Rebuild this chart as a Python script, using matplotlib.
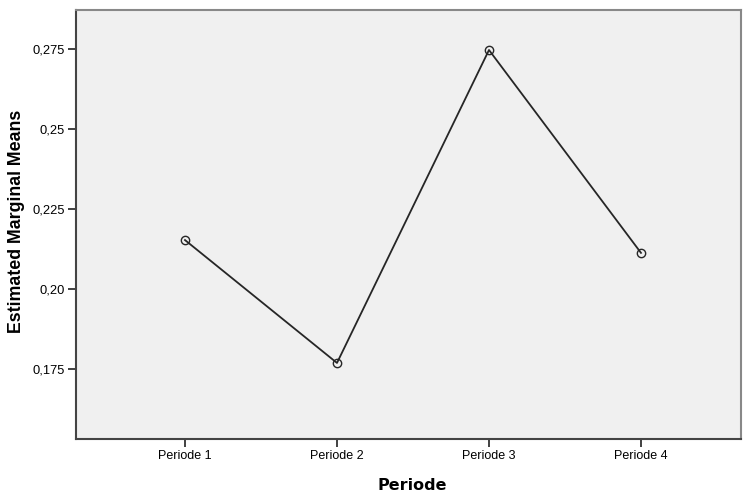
import matplotlib.pyplot as plt

periods = ['Periode 1', 'Periode 2', 'Periode 3', 'Periode 4']
means = [0.2153, 0.1769, 0.2747, 0.2113]
yticks = [0.175, 0.20, 0.225, 0.25, 0.275]
ytick_labels = ['0,175', '0,20', '0,225', '0,25', '0,275']

plt.rcParams['font.family'] = ['Liberation Sans', 'DejaVu Sans']

fig = plt.figure(figsize=(7.43, 4.94), dpi=100)
ax = fig.add_axes([76 / 743, 1 - 439 / 494, (741 - 76) / 743, (439 - 10) / 494])
ax.set_facecolor('#f0f0f0')

x = list(range(len(periods)))
ax.plot(x, means, color='#262626', lw=1.3, marker='o', ms=6,
        mfc='none', mec='#262626', mew=1.0)

ax.set_xlim(-0.717, 3.658)
ax.set_ylim(0.15313, 0.2872)
ax.set_xticks(x)
ax.set_xticklabels(periods, fontsize=9)
ax.set_yticks(yticks)
ax.set_yticklabels(ytick_labels, fontsize=9.3)
ax.tick_params(axis='both', direction='out', length=6, width=1.3, color='#333333', pad=2)

for s in ['left', 'bottom']:
    ax.spines[s].set_color('#444444')
    ax.spines[s].set_linewidth(1.5)
for s in ['top', 'right']:
    ax.spines[s].set_color('#888888')
    ax.spines[s].set_linewidth(1.5)

ax.set_xlabel('Periode', fontsize=11.5, fontweight='bold', family='DejaVu Sans', va='center')
ax.xaxis.set_label_coords((412 - 76) / 665, -(485.5 - 439) / 429)
ax.set_ylabel('Estimated Marginal Means', fontsize=12.8, fontweight='bold', va='center')
ax.yaxis.set_label_coords(-(76 - 17) / 665, (439 - 221) / 429)

fig.savefig('out.png', dpi=100)
